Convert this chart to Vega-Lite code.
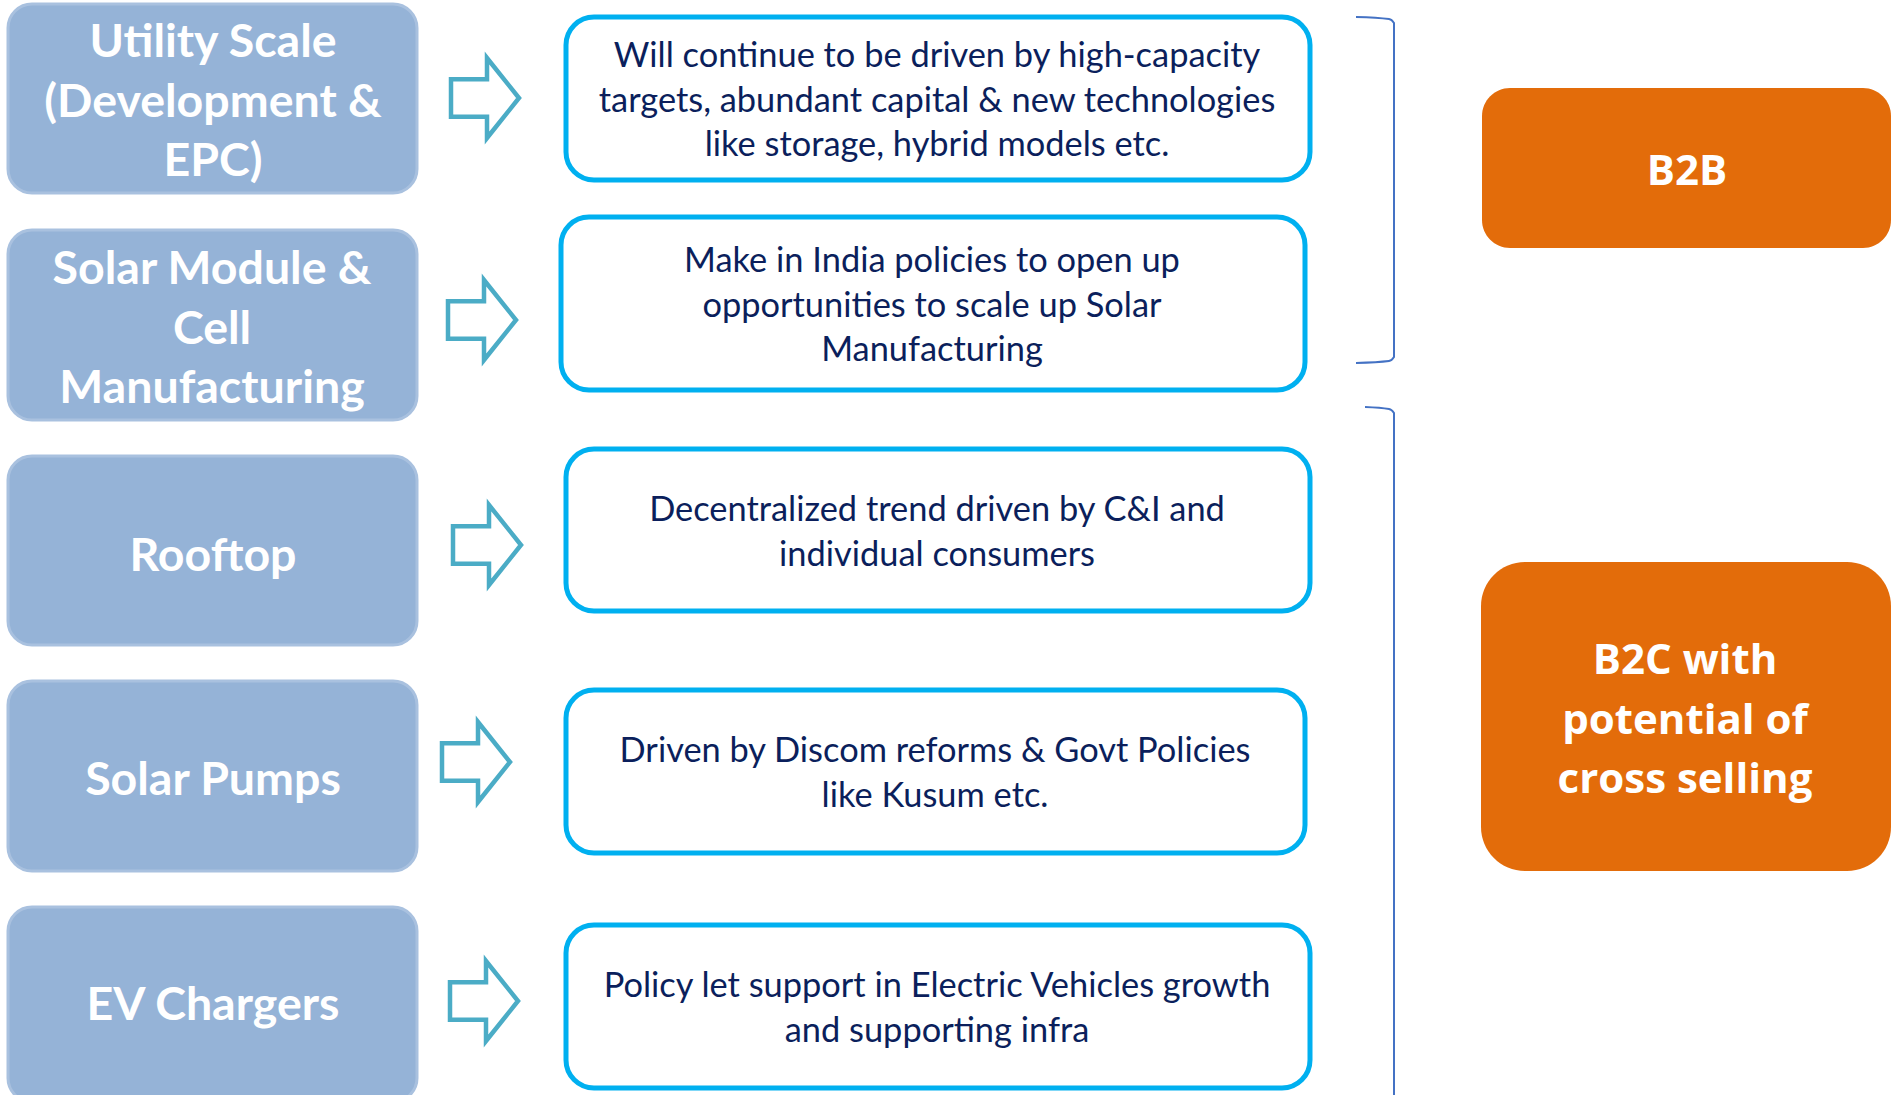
{
  "$schema": "https://vega.github.io/schema/vega-lite/v6.json",
  "width": 1891,
  "height": 1095,
  "autosize": {"type": "none"},
  "padding": 0,
  "background": "white",
  "config": {"view": {"stroke": null}},
  "datasets": {
    "segments": [
      {"label": "Utility Scale\n(Development &\nEPC)", "x1": 8, "x2": 417, "y1": 4, "y2": 193, "cx": 213, "cy": 43},
      {"label": "Solar Module &\nCell\nManufacturing", "x1": 8, "x2": 417, "y1": 230, "y2": 420, "cx": 212, "cy": 270},
      {"label": "Rooftop", "x1": 8, "x2": 417, "y1": 456, "y2": 645, "cx": 213, "cy": 557},
      {"label": "Solar Pumps", "x1": 8, "x2": 417, "y1": 681, "y2": 871, "cx": 213, "cy": 781},
      {"label": "EV Chargers", "x1": 8, "x2": 417, "y1": 907, "y2": 1102, "cx": 213, "cy": 1006}
    ],
    "arrows": [
      {"segment": "Utility Scale", "ax": 485, "ay": 98},
      {"segment": "Solar Module", "ax": 482, "ay": 320},
      {"segment": "Rooftop", "ax": 487, "ay": 545},
      {"segment": "Solar Pumps", "ax": 476, "ay": 762},
      {"segment": "EV Chargers", "ax": 484, "ay": 1001}
    ],
    "drivers": [
      {"text": "Will continue to be driven by high-capacity\ntargets, abundant capital & new technologies\nlike storage, hybrid models etc.", "x1": 566, "x2": 1310, "y1": 17, "y2": 180, "cx": 937, "cy": 57},
      {"text": "Make in India policies to open up\nopportunities to scale up Solar\nManufacturing", "x1": 561, "x2": 1305, "y1": 217, "y2": 390, "cx": 932, "cy": 262},
      {"text": "Decentralized trend driven by C&I and\nindividual consumers", "x1": 566, "x2": 1310, "y1": 449, "y2": 611, "cx": 937, "cy": 511},
      {"text": "Driven by Discom reforms & Govt Policies\nlike Kusum etc.", "x1": 566, "x2": 1305, "y1": 690, "y2": 853, "cx": 935, "cy": 752},
      {"text": "Policy let support in Electric Vehicles growth\nand supporting infra", "x1": 566, "x2": 1310, "y1": 925, "y2": 1088, "cx": 937, "cy": 987}
    ],
    "brackets": [
      {"group": "B2B", "i": 0, "bx": 1356, "by": 17},
      {"group": "B2B", "i": 1, "bx": 1389, "by": 19},
      {"group": "B2B", "i": 2, "bx": 1394, "by": 23},
      {"group": "B2B", "i": 3, "bx": 1394, "by": 357},
      {"group": "B2B", "i": 4, "bx": 1389, "by": 361},
      {"group": "B2B", "i": 5, "bx": 1356, "by": 363},
      {"group": "B2C", "i": 0, "bx": 1365, "by": 407},
      {"group": "B2C", "i": 1, "bx": 1389, "by": 409},
      {"group": "B2C", "i": 2, "bx": 1394, "by": 413},
      {"group": "B2C", "i": 3, "bx": 1394, "by": 1095}
    ],
    "models": [
      {"label": "B2B", "x1": 1482, "x2": 1891, "y1": 88, "y2": 248, "cx": 1687, "cy": 172},
      {"label": "B2C with\npotential of\ncross selling", "x1": 1481, "x2": 1891, "y1": 562, "y2": 871, "cx": 1685, "cy": 661}
    ]
  },
  "layer": [
    {
      "data": {"name": "segments"},
      "mark": {"type": "rect", "cornerRadius": 24, "fill": "#95B3D7", "stroke": "#A9C1DF", "strokeWidth": 3},
      "encoding": {
        "x": {"field": "x1", "type": "quantitative", "scale": {"domain": [0, 1891], "nice": false, "zero": false}, "axis": null},
        "x2": {"field": "x2"},
        "y": {"field": "y1", "type": "quantitative", "scale": {"domain": [0, 1095], "reverse": true, "nice": false, "zero": false}, "axis": null},
        "y2": {"field": "y2"}
      }
    },
    {
      "data": {"name": "segments"},
      "mark": {"type": "text", "lineBreak": "\n", "font": "Lato", "fontWeight": "bold", "fontSize": 46.5, "lineHeight": 59.5, "fill": "white", "align": "center", "baseline": "middle"},
      "encoding": {
        "x": {"field": "cx", "type": "quantitative"},
        "y": {"field": "cy", "type": "quantitative"},
        "text": {"field": "label", "type": "nominal"}
      }
    },
    {
      "data": {"name": "arrows"},
      "mark": {"type": "point", "shape": "M -0.85 -0.47 L 0.05 -0.47 L 0.05 -1 L 0.85 0 L 0.05 1 L 0.05 0.47 L -0.85 0.47 Z", "filled": true, "fill": "white", "stroke": "#4BACC6", "strokeWidth": 4.5, "size": 6400, "opacity": 1, "strokeJoin": "miter"},
      "encoding": {
        "x": {"field": "ax", "type": "quantitative"},
        "y": {"field": "ay", "type": "quantitative"}
      }
    },
    {
      "data": {"name": "drivers"},
      "mark": {"type": "rect", "cornerRadius": 28, "fill": "white", "stroke": "#00B0F0", "strokeWidth": 5},
      "encoding": {
        "x": {"field": "x1", "type": "quantitative"},
        "x2": {"field": "x2"},
        "y": {"field": "y1", "type": "quantitative"},
        "y2": {"field": "y2"}
      }
    },
    {
      "data": {"name": "drivers"},
      "mark": {"type": "text", "lineBreak": "\n", "font": "Lato", "fontSize": 34.4, "lineHeight": 44.6, "fill": "#0B1F5C", "align": "center", "baseline": "middle"},
      "encoding": {
        "x": {"field": "cx", "type": "quantitative"},
        "y": {"field": "cy", "type": "quantitative"},
        "text": {"field": "text", "type": "nominal"}
      }
    },
    {
      "data": {"name": "brackets"},
      "mark": {"type": "line", "stroke": "#4472C4", "strokeWidth": 2, "interpolate": "monotone"},
      "encoding": {
        "x": {"field": "bx", "type": "quantitative"},
        "y": {"field": "by", "type": "quantitative"},
        "detail": {"field": "group", "type": "nominal"},
        "order": {"field": "i", "type": "quantitative"}
      }
    },
    {
      "data": {"name": "models"},
      "transform": [{"filter": "datum.label == 'B2B'"}],
      "mark": {"type": "rect", "cornerRadius": 28, "fill": "#E36C0A"},
      "encoding": {
        "x": {"field": "x1", "type": "quantitative"},
        "x2": {"field": "x2"},
        "y": {"field": "y1", "type": "quantitative"},
        "y2": {"field": "y2"}
      }
    },
    {
      "data": {"name": "models"},
      "transform": [{"filter": "datum.label != 'B2B'"}],
      "mark": {"type": "rect", "cornerRadius": 44, "fill": "#E36C0A"},
      "encoding": {
        "x": {"field": "x1", "type": "quantitative"},
        "x2": {"field": "x2"},
        "y": {"field": "y1", "type": "quantitative"},
        "y2": {"field": "y2"}
      }
    },
    {
      "data": {"name": "models"},
      "mark": {"type": "text", "lineBreak": "\n", "font": "Open Sans", "fontWeight": "bold", "fontSize": 42, "lineHeight": 59.7, "fill": "white", "align": "center", "baseline": "middle"},
      "encoding": {
        "x": {"field": "cx", "type": "quantitative"},
        "y": {"field": "cy", "type": "quantitative"},
        "text": {"field": "label", "type": "nominal"}
      }
    }
  ]
}
